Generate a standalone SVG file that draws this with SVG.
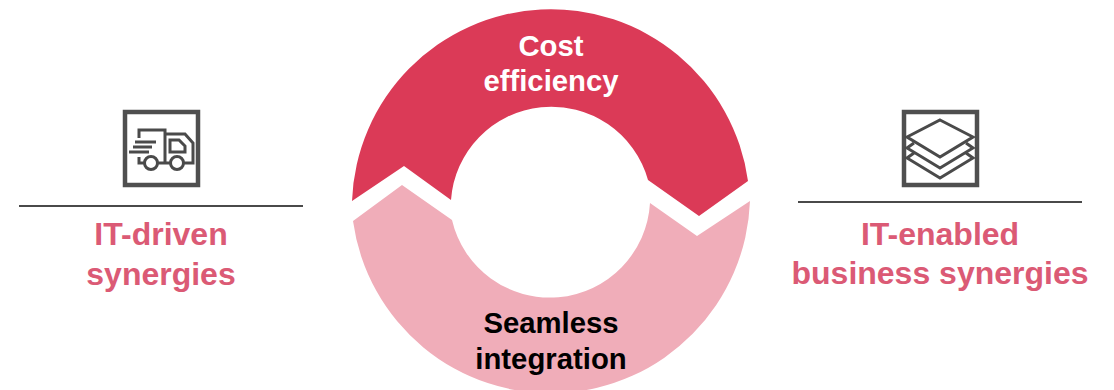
<svg xmlns="http://www.w3.org/2000/svg" width="1114" height="390" viewBox="0 0 1114 390">
<style>
.t{font-family:"Liberation Sans",Arial,sans-serif;font-weight:700;text-anchor:middle}
.h{font-size:32px;fill:#DB5A75}
.c{font-size:29.300px}
.i{fill:none;stroke:#4f4f4f;stroke-width:4.500}
.g{fill:none;stroke:#4a4a4a;stroke-width:3}
</style>
<rect width="1114" height="390" fill="#fff"/>
<g id="ring-top">
<path d="M352 201A199 199 0 0 1 748 181L699 216L648 180A100.500 100.500 0 0 0 451 200L404 166Z" fill="#DB3A57"/>
<text class="t c" x="551" y="56" fill="#fff">Cost</text>
<text class="t c" x="551" y="91" fill="#fff">efficiency</text>
</g>
<g id="ring-bottom">
<path d="M353 221L402 185L452 220A100.400 100.400 0 0 0 650 203L697 236L750 201A199.500 199.500 0 0 1 353 221Z" fill="#F0ADB9"/>
<text class="t c" x="551" y="332.500" fill="#000">Seamless</text>
<text class="t c" x="551" y="368.500" fill="#000">integration</text>
</g>
<g id="left-node">
<rect class="i" x="125" y="112" width="73" height="73"/>
<path class="g" d="M139 138V130H165V163M139 157V163H145M158 163H171M184 163H193V143L185 134H165"/>
<path class="g" d="M170 140H179L185 146V152H170Z"/>
<circle class="g" cx="151" cy="163" r="6.500"/><circle class="g" cx="177" cy="163" r="6.500"/>
<path class="g" d="M135 142H156M133 147H152M129 152H149"/>
<line x1="19" y1="206" x2="303" y2="206" stroke="#4a4a4a" stroke-width="2"/>
<text class="t h" x="161" y="245">IT-driven</text>
<text class="t h" x="161" y="285">synergies</text>
</g>
<g id="right-node">
<rect class="i" x="904" y="112" width="73" height="73"/>
<path class="g" d="M940 120L973 137L940 157L907 137Z"/>
<path class="g" d="M914 143L907 148L940 168L973 148L966 143"/>
<path class="g" d="M914 153L907 158L940 178L973 158L966 153"/>
<line x1="798" y1="202" x2="1082" y2="202" stroke="#4a4a4a" stroke-width="2"/>
<text class="t h" x="940" y="245">IT-enabled</text>
<text class="t h" x="940" y="284">business synergies</text>
</g>
<g id="connectors"></g>
</svg>
